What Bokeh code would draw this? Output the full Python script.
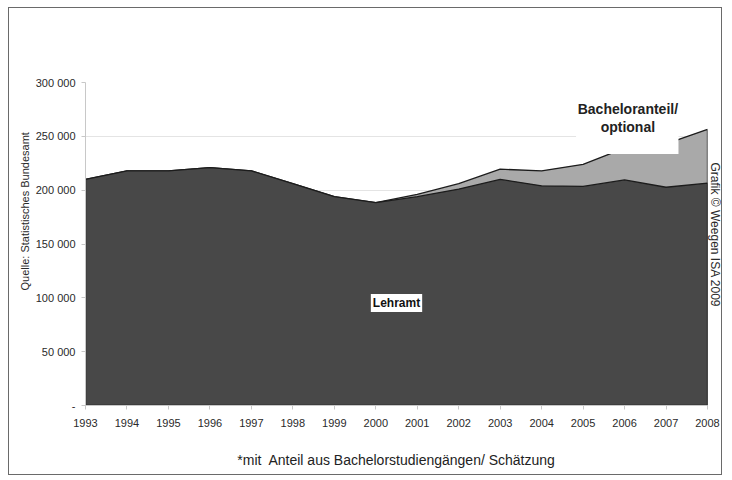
from bokeh.plotting import figure
from bokeh.models import FixedTicker, BoxAnnotation, Label, Title
from bokeh.embed import file_html
from bokeh.resources import INLINE

# Lehramt students per year, and the total including the estimated Bachelor share
years = list(range(1993, 2009))
lehramt = [210000, 218000, 218000, 221000, 218000, 206000, 194000, 188500,
           194000, 201000, 210000, 204000, 203500, 209500, 202700, 206500]
gesamt = [210000, 218000, 218000, 221000, 218000, 206000, 194000, 188500,
          196000, 206000, 219500, 218000, 224000, 239000, 243000, 256500]
y_ticks = [0, 50000, 100000, 150000, 200000, 250000, 300000]
y_tick_labels = ["-", "50 000", "100 000", "150 000", "200 000", "250 000", "300 000"]

FONT = "Liberation Sans"
DARK = "#484848"
LIGHT = "#a9a9a9"
EDGE = "#1c1c1c"

p = figure(width=714, height=468, output_backend="svg", toolbar_location=None,
           x_range=(years[0], years[-1]), y_range=(0, 300000),
           min_border_left=76, min_border_right=15, min_border_top=74,
           min_border_bottom=71, background_fill_color="white",
           border_fill_color="white", outline_line_color=None,
           styles={"margin-left": "8px", "margin-top": "7px",
                   "border": "1px solid #6a6a6a"})

# stacked areas as closed polygons so the outline runs around the right edge too
zeros = [0] * len(years)
p.patch(years + years[::-1], gesamt + zeros[::-1], fill_color=LIGHT,
        line_color=EDGE, line_width=1.3)
p.patch(years + years[::-1], lehramt + zeros[::-1], fill_color=DARK,
        line_color=EDGE, line_width=1.3)

# axes
p.yaxis.ticker = FixedTicker(ticks=y_ticks)
p.yaxis.major_label_overrides = dict(zip(y_ticks, y_tick_labels))
p.xaxis.ticker = FixedTicker(ticks=years)
for ax in (p.xaxis, p.yaxis):
    ax.axis_line_color = "#c8c8c8"
    ax.major_tick_line_color = "#c8c8c8"
    ax.major_tick_out = 4
    ax.major_tick_in = 0
    ax.minor_tick_line_color = None
    ax.major_label_text_font = FONT
    ax.major_label_text_font_size = "11px"
    ax.major_label_text_color = "#2a2a2a"
p.yaxis.major_label_standoff = 6
p.xaxis.major_label_standoff = 9

p.xaxis.axis_label = "*mit\u00a0 Anteil aus Bachelorstudiengängen/ Schätzung"
p.xaxis.axis_label_text_font = FONT
p.xaxis.axis_label_text_font_style = "normal"
p.xaxis.axis_label_text_font_size = "14px"
p.xaxis.axis_label_text_color = "#222222"
p.xaxis.axis_label_standoff = 22

p.xgrid.grid_line_color = None
p.ygrid.ticker = FixedTicker(ticks=y_ticks)
p.ygrid.grid_line_color = "#e4e4e4"
p.ygrid.grid_line_width = 1

# white text box for the Bachelor share caption
p.add_layout(BoxAnnotation(left=2004.83, right=2007.30, bottom=233600, top=294000,
                           fill_color="white", fill_alpha=1.0, line_color=None))
p.add_layout(Label(x=2006.08, y=267000, text="Bacheloranteil/\noptional",
                   text_align="center", text_baseline="middle",
                   text_font=FONT, text_font_style="bold", text_font_size="14px",
                   text_color="#222222", text_line_height=1.1))

p.add_layout(Label(x=2000.5, y=95200, text="Lehramt", text_align="center",
                   text_baseline="middle", text_font=FONT,
                   text_font_style="bold", text_font_size="12px",
                   text_color="#111111", background_fill_color="white",
                   background_fill_alpha=1.0, padding=2))

# source and copyright notes along the sides
p.add_layout(Title(text="Quelle: Statistisches Bundesamt", align="left", offset=115,
                   text_font=FONT, text_font_style="normal", text_font_size="11px",
                   text_color="#2a2a2a", standoff=4), "left")
p.add_layout(Title(text="Grafik © Weegen ISA 2009", align="left", offset=80,
                   text_font=FONT, text_font_style="normal", text_font_size="12px",
                   text_color="#2a2a2a", standoff=0), "right")

open("out.html", "w").write(file_html(p, INLINE))
